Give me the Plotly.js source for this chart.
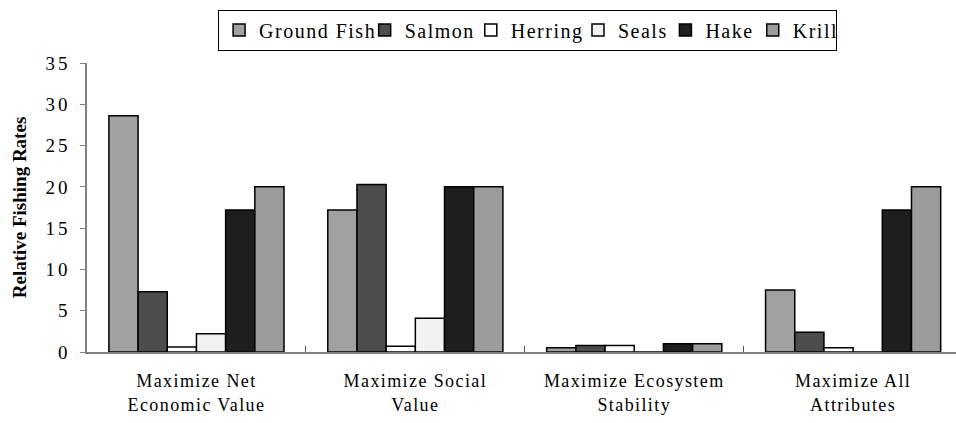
<!DOCTYPE html>
<html><head><meta charset="utf-8">
<script src="https://cdn.plot.ly/plotly-3.0.1.min.js"></script>
<style>body{margin:0;background:#fff}#c{width:956px;height:423px}
#c .xtick text{letter-spacing:1.4px}
#c .ytick text{letter-spacing:3px}
#c .legendtext{letter-spacing:1.5px}</style>
</head><body><div id="c"></div>
<script>
const categories = ["Maximize Net<br>Economic Value","Maximize Social<br>Value","Maximize Ecosystem<br>Stability","Maximize All<br>Attributes"];
const seriesNames = ["Ground Fish","Salmon","Herring","Seals","Hake","Krill"];
const groundFish = [28.6, 17.2, 0.5, 7.5];
const salmon = [7.3, 20.3, 0.8, 2.4];
const herring = [0.6, 0.7, 0.8, 0.5];
const seals = [2.2, 4.1, 0, 0];
const hake = [17.2, 20.0, 1.0, 17.2];
const krill = [20.0, 20.0, 1.0, 20.0];
const yTicks = [0,5,10,15,20,25,30,35];

const values = [groundFish, salmon, herring, seals, hake, krill];
const colors = ["#a0a0a0","#4d4d4d","#ffffff","#f2f2f2","#1e1e1e","#9c9c9c"];
const font = "Liberation Serif";
const traces = seriesNames.map((n,i)=>({
  type:"bar", name:n, x:categories, y:values[i],
  marker:{color:colors[i], line:{color:"#000", width:1.5}}
}));
const layout = {
  width:956, height:423,
  margin:{l:87, r:0, t:63, b:71},
  paper_bgcolor:"#fff", plot_bgcolor:"#fff",
  barmode:"group", bargap:0.2, bargroupgap:0,
  font:{family:font, size:18, color:"#000"},
  showlegend:true,
  legend:{orientation:"h", x:0.507, xanchor:"center", y:1.185, yanchor:"top",
    bordercolor:"#000", borderwidth:1, font:{family:font, size:20},
    itemwidth:30, tracegroupgap:0, traceorder:"normal"},
  xaxis:{type:"category", range:[-0.5, 3.47], showline:true, linecolor:"#808080", linewidth:1.5,
    ticks:"inside", tickson:"boundaries", ticklen:6, tickcolor:"#555",
    showgrid:false, tickfont:{family:font, size:18}, ticklabelstandoff:12},
  yaxis:{range:[0,35], tickvals:yTicks, ticks:"outside", ticklen:5, tickcolor:"#808080",
    showline:true, linecolor:"#808080", linewidth:1.5, showgrid:false, zeroline:false,
    tickfont:{family:font, size:19}, ticklabelstandoff:6,
    title:{text:"<b>Relative Fishing Rates</b>", font:{family:font, size:19}, standoff:20}}
};
Plotly.newPlot("c", traces, layout, {displayModeBar:false});
</script></body></html>
